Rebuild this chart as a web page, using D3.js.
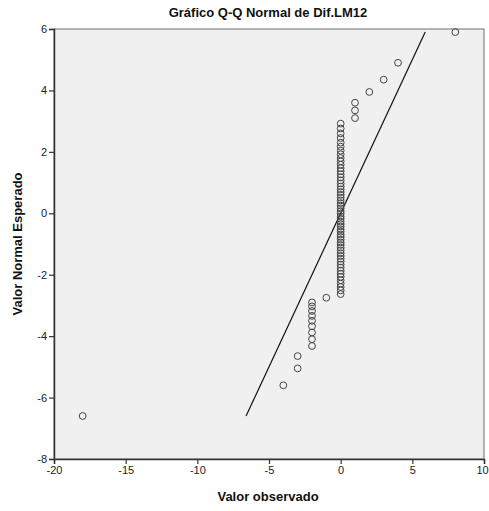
<!DOCTYPE html>
<html><head><meta charset="utf-8">
<script src="https://cdn.jsdelivr.net/npm/d3@7"></script>
<style>body{margin:0;background:#fff}svg{display:block}</style>
</head><body>
<script>
const xTicks = [-20,-15,-10,-5,0,5,10];
const yTicks = [-8,-6,-4,-2,0,2,4,6];
const observed = [-18,-4,-3,-3,-2,-2,-2,-2,-2,-2,-2,-2,-2,-1,
  0,0,0,0,0,0,0,0,0,0,0,0,0,0,0,0,0,0,0,0,0,0,0,0,0,0,0,0,0,0,0,0,0,0,0,0,0,0,0,0,0,0,0,0,0,0,0,0,0,0,0,0,0,0,0,0,
  1,1,1,2,3,4,8];
const expected = [-6.60,-5.60,-5.05,-4.65,-4.32,-4.10,-3.88,-3.68,-3.50,-3.34,-3.18,-3.03,-2.90,-2.75,
  -2.63,-2.51,-2.40,-2.29,-2.18,-2.07,-1.97,-1.87,-1.77,-1.67,-1.57,-1.48,-1.39,-1.30,-1.21,-1.12,-1.03,-0.95,-0.86,-0.77,-0.69,-0.60,-0.52,-0.43,-0.35,-0.27,-0.18,-0.10,-0.01,0.07,0.16,0.25,0.33,0.42,0.51,0.60,0.69,0.78,0.87,0.97,1.07,1.17,1.27,1.37,1.47,1.58,1.69,1.80,1.92,2.04,2.17,2.30,2.45,2.60,2.76,2.92,
  3.10,3.35,3.60,3.95,4.35,4.90,5.90];
const refLine = [[-6.6,-6.6],[5.9,5.9]];

const W=489,H=511;
const m={l:54,t:29,r:484,b:459};
const svg=d3.select("body").append("svg").attr("width",W).attr("height",H)
  .style("font-family","'Liberation Sans',Arial,sans-serif");
const x=d3.scaleLinear().domain([-20,10]).range([m.l,m.r]);
const y=d3.scaleLinear().domain([-8,6]).range([m.b,m.t]);

svg.append("rect").attr("x",m.l).attr("y",m.t).attr("width",m.r-m.l).attr("height",m.b-m.t)
  .attr("fill","#f0f0f0").attr("stroke","#6e6e6e").attr("stroke-width",1);

const fmt = d => String(d);
const gx=svg.append("g").attr("transform",`translate(0,${m.b})`)
  .call(d3.axisBottom(x).tickValues(xTicks).tickSize(5).tickPadding(2).tickFormat(fmt));
const gy=svg.append("g").attr("transform",`translate(${m.l},0)`)
  .call(d3.axisLeft(y).tickValues(yTicks).tickSize(5).tickPadding(2).tickFormat(fmt));
[gx,gy].forEach(g=>{
  g.select(".domain").attr("stroke","#333").attr("stroke-width",1.5);
  g.selectAll(".tick line").attr("stroke","#333").attr("stroke-width",1.2);
  g.selectAll(".tick text").attr("fill","#222").style("font-size","11px").style("font-family","'Liberation Sans',Arial,sans-serif");
});
gx.selectAll(".tick text").filter(d=>d===10).attr("dx",-2);

svg.append("path").datum(refLine)
  .attr("d",d3.line().x(d=>x(d[0])).y(d=>y(d[1])))
  .attr("stroke","#111").attr("stroke-width",1.2).attr("fill","none");

svg.append("g").selectAll("circle").data(observed.map((o,i)=>[o,expected[i]])).join("circle")
  .attr("cx",d=>x(d[0])).attr("cy",d=>y(d[1])).attr("r",3.4)
  .attr("fill","none").attr("stroke","#444").attr("stroke-width",1);

svg.append("text").attr("x",268).attr("y",17).attr("text-anchor","middle")
  .style("font-size","13px").style("font-weight","bold").attr("fill","#111").text("Gráfico Q-Q Normal de Dif.LM12");
svg.append("text").attr("x",268).attr("y",501).attr("text-anchor","middle")
  .style("font-size","13px").style("font-weight","bold").attr("fill","#111").text("Valor observado");
svg.append("text").attr("transform","translate(22,244) rotate(-90)").attr("text-anchor","middle")
  .style("font-size","13px").style("font-weight","bold").attr("fill","#111").text("Valor Normal Esperado");
</script>
</body></html>
